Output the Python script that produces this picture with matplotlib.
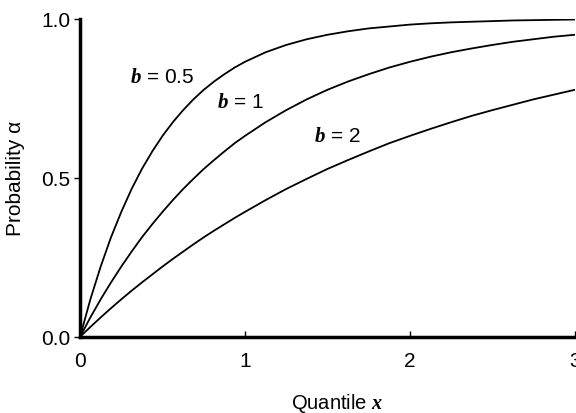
import matplotlib
matplotlib.use('Agg')
import matplotlib.pyplot as plt

plt.rcParams['font.family'] = ['Liberation Sans', 'DejaVu Sans']
plt.rcParams['mathtext.fontset'] = 'custom'
plt.rcParams['mathtext.it'] = 'Liberation Serif:italic:bold'

# quantile x, read finely near the origin, coarser further out
x = [0.0, 0.0625, 0.125, 0.1875, 0.25, 0.3125, 0.375, 0.4375, 0.5, 0.5625, 0.625,
     0.6875, 0.75, 0.8125, 0.875, 0.9375, 1.0, 1.125, 1.25, 1.375, 1.5, 1.625, 1.75,
     1.875, 2.0, 2.125, 2.25, 2.375, 2.5, 2.625, 2.75, 2.875, 3.0]
p_b05 = [0.0, 0.118, 0.221, 0.313, 0.393, 0.465, 0.528, 0.583, 0.632, 0.675, 0.713,
         0.747, 0.777, 0.803, 0.826, 0.847, 0.865, 0.895, 0.918, 0.936, 0.950, 0.961, 0.970,
         0.976, 0.982, 0.986, 0.989, 0.991, 0.993, 0.995, 0.996, 0.997, 0.998]
p_b1 = [0.0, 0.061, 0.118, 0.171, 0.221, 0.268, 0.313, 0.354, 0.393, 0.430, 0.465,
        0.497, 0.528, 0.556, 0.583, 0.609, 0.632, 0.675, 0.713, 0.747, 0.777, 0.803, 0.826,
        0.847, 0.865, 0.881, 0.895, 0.907, 0.918, 0.928, 0.936, 0.944, 0.950]
p_b2 = [0.0, 0.031, 0.061, 0.090, 0.118, 0.145, 0.171, 0.196, 0.221, 0.245, 0.268,
        0.291, 0.313, 0.334, 0.354, 0.374, 0.393, 0.430, 0.465, 0.497, 0.528, 0.556, 0.583,
        0.609, 0.632, 0.654, 0.675, 0.695, 0.713, 0.730, 0.747, 0.762, 0.777]
curve_labels = [r'$\mathit{b}$ = 0.5', r'$\mathit{b}$ = 1', r'$\mathit{b}$ = 2']
label_pos = [(0.50, 0.82), (0.975, 0.739), (1.56, 0.632)]

fig = plt.figure(figsize=(5.76, 4.14), dpi=100)
ax = fig.add_axes([0.139, 0.184, 0.859, 0.768])

for p in (p_b05, p_b1, p_b2):
    ax.plot(x, p, color='black', lw=1.3)

for lbl, (lx, ly) in zip(curve_labels, label_pos):
    ax.text(lx, ly, lbl, fontsize=15, ha='center', va='center')

ax.set_xlim(0, 3)
ax.set_ylim(0, 1)
ax.set_xticks([0, 1, 2, 3])
ax.set_xticklabels(['0', '1', '2', '3'])
ax.set_yticks([0, 0.5, 1.0])
ax.set_yticklabels(['0.0', '0.5', '1.0'])
for s in ('top', 'right'):
    ax.spines[s].set_visible(False)
for s in ('left', 'bottom'):
    ax.spines[s].set_linewidth(2.5)
ax.tick_params(axis='x', direction='in', length=4, width=1, labelsize=15, pad=10)
ax.tick_params(axis='y', direction='out', length=4, width=1, labelsize=15, pad=3)

ax.set_xlabel(r'Quantile $\mathit{x}$', fontsize=14.5)
ax.set_ylabel('Probability α', fontsize=15)
ax.xaxis.set_label_coords(0.52, -0.17)
ax.yaxis.set_label_coords(-0.111, 0.5)

fig.savefig('out.png', dpi=100)
